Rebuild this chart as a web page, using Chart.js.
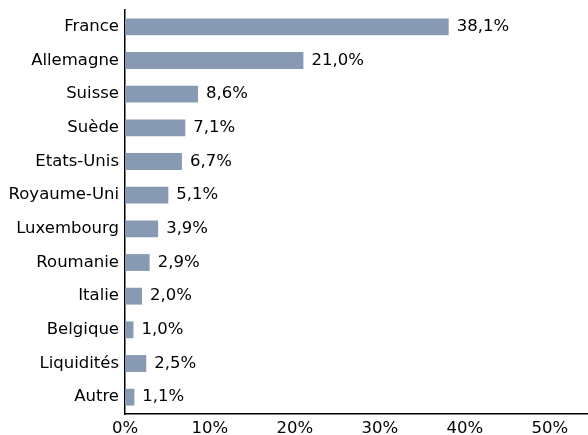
<!DOCTYPE html>
<html><head><meta charset="utf-8">
<script src="https://cdn.jsdelivr.net/npm/chart.js@4/dist/chart.umd.min.js"></script>
<style>html,body{margin:0;padding:0;background:#fff}#w{width:588px;height:435px}</style>
</head><body><div id="w"><canvas id="c"></canvas></div>
<script>
const categories = ["France","Allemagne","Suisse","Suède","Etats-Unis","Royaume-Uni","Luxembourg","Roumanie","Italie","Belgique","Liquidités","Autre"];
const values = [38.1,21.0,8.6,7.1,6.7,5.1,3.9,2.9,2.0,1.0,2.5,1.1];
const xTicks = [0,10,20,30,40,50];
const fmt = v => v.toFixed(1).replace('.', ',') + '%';
const FONT = "DejaVu Sans";
const FS = 16.5;

const labelPlugin = {
  id: 'vlabels',
  afterDatasetsDraw(chart) {
    const ctx = chart.ctx;
    const meta = chart.getDatasetMeta(0);
    ctx.save();
    ctx.font = FS + "px '" + FONT + "'";
    ctx.fillStyle = '#000';
    ctx.textBaseline = 'middle';
    ctx.textAlign = 'left';
    meta.data.forEach((bar, i) => {
      ctx.fillText(fmt(values[i]), bar.x + 8, bar.y);
    });
    ctx.restore();
  }
};

new Chart(document.getElementById('c'), {
  type: 'bar',
  data: { labels: categories, datasets: [{ data: values, backgroundColor: 'rgb(135,153,179)', borderWidth: 0, barPercentage: 0.5, categoryPercentage: 1.0 }] },
  options: {
    indexAxis: 'y', responsive: true, maintainAspectRatio: false, animation: false,
    layout: { padding: { top: 10, right: 0, bottom: 0, left: 0 } },
    plugins: { legend: { display: false }, tooltip: { enabled: false } },
    scales: {
      x: {
        min: 0, max: 54.5,
        afterBuildTicks: s => { s.ticks = xTicks.map(v => ({ value: v })); },
        grid: { display: false, drawTicks: false },
        border: { display: true, color: '#000', width: 1.5 },
        ticks: { color: '#000', font: { family: FONT, size: FS }, padding: 5, callback: v => v + '%', maxRotation: 0 },
        afterFit: s => { s.height = 21; s.paddingLeft = 0; s.paddingRight = 0; }
      },
      y: {
        grid: { display: false, drawTicks: false },
        border: { display: true, color: '#000', width: 1.5 },
        ticks: { color: '#000', font: { family: FONT, size: FS }, padding: 6 },
        afterFit: s => { s.width = 125; s.paddingTop = 0; s.paddingBottom = 0; }
      }
    }
  },
  plugins: [labelPlugin]
});
</script></body></html>
